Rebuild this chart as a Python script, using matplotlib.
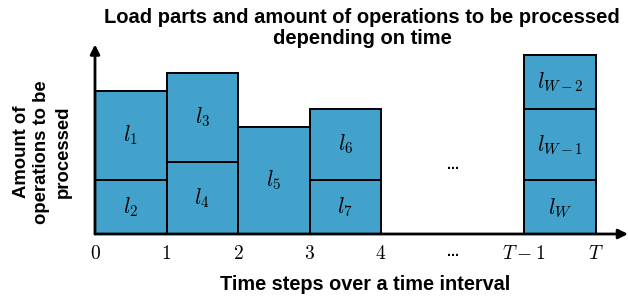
import matplotlib
matplotlib.use("Agg")
import matplotlib.pyplot as plt

plt.rcParams['mathtext.fontset'] = 'cm'
plt.rcParams['font.family'] = ['Liberation Sans', 'DejaVu Sans']

# Data: segments (column position, height, label), stacked bottom-up per column
seg_cols = [0, 0, 1, 1, 2, 3, 3, 6, 6, 6]
seg_heights = [3, 5, 4, 5, 6, 3, 4, 3, 4, 3]
seg_labels = [r'$l_2$', r'$l_1$', r'$l_4$', r'$l_3$', r'$l_5$', r'$l_7$', r'$l_6$',
              r'$l_W$', r'$l_{W-1}$', r'$l_{W-2}$']
tick_pos = [0, 1, 2, 3, 4, 5, 6, 7]
tick_labels = ['$0$', '$1$', '$2$', '$3$', '$4$', '...', '$T-1$', '$T$']

fill = '#43A2CB'

fig = plt.figure(figsize=(6.28, 2.96), dpi=100)
ax = fig.add_axes([95/628, 62/296, (628-95)/628, 184/296])
ax.set_xlim(0, 533/71.5)
ax.set_ylim(0, 184/17.9)

bottoms = {}
for c, h, lab in zip(seg_cols, seg_heights, seg_labels):
    b = bottoms.get(c, 0)
    ax.bar(c + 0.5, h, width=1, bottom=b, color=fill, edgecolor='black', linewidth=1.4, zorder=2)
    ax.text(c + 0.5, b + h / 2, lab, ha='center', va='center', fontsize=15.5, zorder=3)
    bottoms[c] = b + h

ax.text(5, 3.85, '...', ha='center', va='center', fontsize=10, fontweight='bold')

for s in ax.spines.values():
    s.set_visible(False)
ax.set_yticks([])
ax.set_xticks(tick_pos)
ax.set_xticklabels(tick_labels, fontsize=14)
for t in ax.get_xticklabels():
    if t.get_text() == '...':
        t.set_fontweight('bold')
        t.set_fontsize(10)
ax.tick_params(axis='x', length=0, pad=8)

# axes arrows
ax.annotate('', xy=(1.0, 0), xytext=(0, 0), xycoords='axes fraction',
            arrowprops=dict(arrowstyle='-|>', color='black', lw=2, mutation_scale=14,
                            shrinkA=0, shrinkB=0), annotation_clip=False, zorder=5)
ax.annotate('', xy=(0, 1.03), xytext=(0, 0), xycoords='axes fraction',
            arrowprops=dict(arrowstyle='-|>', color='black', lw=2, mutation_scale=14,
                            shrinkA=0, shrinkB=0), annotation_clip=False, zorder=5)

fig.text(362/628, 1 - 28/296, 'Load parts and amount of operations to be processed\ndepending on time',
         ha='center', va='center', fontsize=14.5, fontweight='bold', linespacing=1.08)
fig.text(365/628, 1 - 285/296, 'Time steps over a time interval', ha='center', va='center',
         fontsize=14.3, fontweight='bold')
fig.text(42/628, 1 - 152/296, 'Amount of\noperations to be\nprocessed', ha='center', va='center',
         rotation=90, fontsize=13.3, fontweight='bold', linespacing=1.3)

fig.savefig('out.png', dpi=100)
